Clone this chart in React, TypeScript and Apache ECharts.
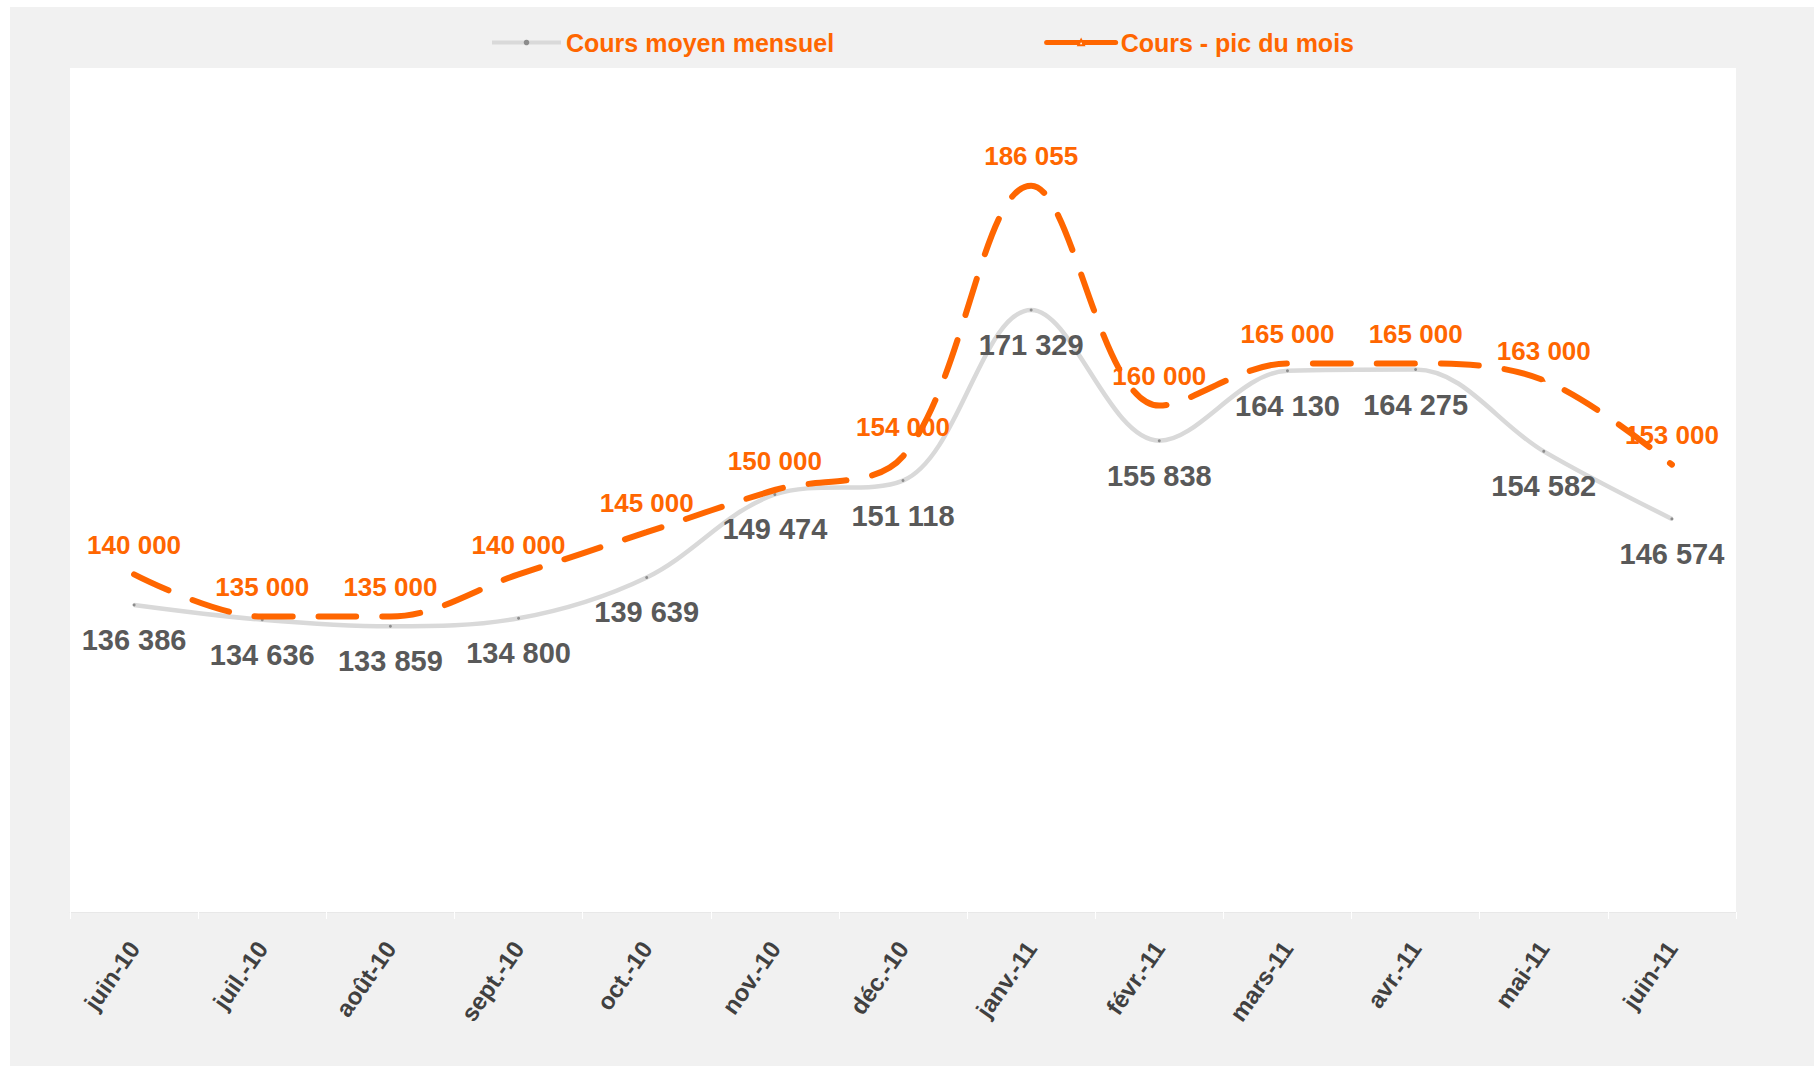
import React, { useEffect, useRef } from "react";
import * as echarts from "echarts";

const months = [
  "juin-10", "juil.-10", "août-10", "sept.-10", "oct.-10", "nov.-10", "déc.-10",
  "janv.-11", "févr.-11", "mars-11", "avr.-11", "mai-11", "juin-11",
];
const coursMoyen = [136386, 134636, 133859, 134800, 139639, 149474, 151118, 171329, 155838, 164130, 164275, 154582, 146574];
const coursPic = [140000, 135000, 135000, 140000, 145000, 150000, 154000, 186055, 160000, 165000, 165000, 163000, 153000];

const seriesNames = ["Cours moyen mensuel", "Cours - pic du mois"];

const FONT = "'Liberation Sans', Arial, sans-serif";
const ORANGE = "#ff6600";

function fmt(v: number): string {
  const th = Math.floor(v / 1000);
  const rest = String(v % 1000).padStart(3, "0");
  return th + " " + rest;
}

export default function App() {
  const ref = useRef<HTMLDivElement>(null);
  useEffect(() => {
    if (!ref.current) return;
    const chart = echarts.init(ref.current, undefined, { renderer: "svg" });
    chart.setOption({
      animation: false,
      backgroundColor: "#f1f1f1",
      graphic: [
        { type: "rect", left: 0, top: 0, shape: { width: 10, height: 1066 }, style: { fill: "#ffffff" } },
        { type: "rect", left: 0, top: 0, shape: { width: 1814, height: 7 }, style: { fill: "#ffffff" } },
      ],
      legend: {
        left: 485,
        top: 25,
        itemWidth: 69,
        itemHeight: 7,
        itemGap: 210,
        textStyle: { color: ORANGE, fontSize: 25, fontWeight: "bold", fontFamily: FONT },
        data: [
          { name: seriesNames[0], lineStyle: { type: "solid", width: 4 } },
          { name: seriesNames[1], lineStyle: { type: "solid", width: 5 } },
        ],
      },
      grid: {
        left: 70,
        top: 68,
        right: 78,
        bottom: 154,
        show: true,
        backgroundColor: "#ffffff",
        borderWidth: 0,
      },
      xAxis: {
        type: "category",
        data: months,
        boundaryGap: true,
        axisLine: { lineStyle: { color: "#e8e8e8", width: 1 } },
        axisTick: { show: true, length: 7, lineStyle: { color: "#ffffff", width: 1 } },
        axisLabel: {
          interval: 0,
          rotate: 55,
          margin: 32,
          color: "#404040",
          fontSize: 24,
          fontWeight: "bold",
          fontFamily: FONT,
        },
      },
      yAxis: {
        type: "value",
        min: 100000,
        max: 200000,
        show: false,
        splitLine: { show: false },
      },
      series: [
        {
          name: seriesNames[0],
          type: "line",
          data: coursMoyen,
          smooth: 0.35,
          symbol: "circle",
          symbolSize: 3,
          showSymbol: true,
          itemStyle: { color: "#8c8c8c" },
          lineStyle: { color: "#d9d9d9", width: 4.5 },
          label: {
            show: true,
            position: "bottom",
            distance: 19,
            color: "#595959",
            fontSize: 29,
            fontWeight: "bold",
            fontFamily: FONT,
            formatter: (p: any) => fmt(p.value),
          },
          labelLayout: { hideOverlap: false },
          z: 2,
        },
        {
          name: seriesNames[1],
          type: "line",
          data: coursPic,
          smooth: 0.35,
          symbol: "emptyTriangle",
          symbolSize: 1,
          showSymbol: true,
          itemStyle: { color: ORANGE },
          lineStyle: { color: ORANGE, width: 6, type: [38, 26], cap: "round" },
          label: {
            show: true,
            position: "top",
            distance: 15,
            color: ORANGE,
            fontSize: 26,
            fontWeight: "bold",
            fontFamily: FONT,
            formatter: (p: any) => fmt(p.value),
          },
          labelLayout: { hideOverlap: false },
          z: 3,
        },
      ],
    });
    return () => chart.dispose();
  }, []);
  return (
    <div
      ref={ref}
      style={{ position: "absolute", left: 0, top: 0, width: 1814, height: 1066 }}
    />
  );
}
